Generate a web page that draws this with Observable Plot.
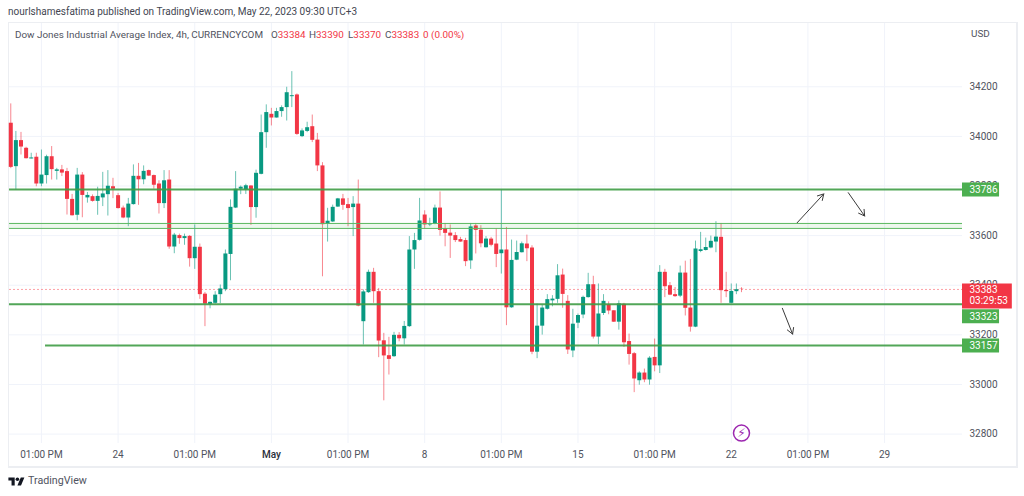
<!DOCTYPE html>
<html>
<head>
<meta charset="utf-8">
<script src="https://cdn.jsdelivr.net/npm/d3@7"></script>
<script src="https://cdn.jsdelivr.net/npm/@observablehq/plot@0.6"></script>
<style>
html,body{margin:0;padding:0;background:#fff;width:1024px;height:496px;overflow:hidden;font-family:Roboto,sans-serif}
.t{position:absolute;white-space:nowrap;font-size:9.9px;line-height:12px;color:#50535e}
#box{position:absolute;left:8px;top:22px;width:1007px;height:443px;border:1px solid #eceef2;border-right-width:2px;border-bottom-width:2px;}
#box svg{display:block;overflow:visible}
.r{color:#f23645}
</style>
</head>
<body>
<div class="t" style="left:8px;top:6px;font-size:10px;color:#434651">nourlshamesfatima published on TradingView.com, May 22, 2023 09:30 UTC+3</div>
<div id="box"></div>
<div class="t" style="left:15px;top:29px">Dow Jones Industrial Average Index, 4h, CURRENCYCOM</div>
<div class="t" style="left:271px;top:29px">O<span class="r">33384</span></div>
<div class="t" style="left:309px;top:29px">H<span class="r">33390</span></div>
<div class="t" style="left:348px;top:29px">L<span class="r">33370</span></div>
<div class="t" style="left:385px;top:29px">C<span class="r">33383</span></div>
<div class="t r" style="left:423px;top:29px">0 (0.00%)</div>
<div class="t" style="left:971px;top:28px">USD</div>
<svg style="position:absolute;left:8px;top:477px" width="17" height="9" viewBox="0 3 36 20"><path fill="#131722" d="M14 22H7V11H0V4h14v18zM28 22h-8l7.5-18h8L28 22z"/><circle fill="#131722" cx="20" cy="8" r="4"/></svg>
<div class="t" style="left:28px;top:474px;font-size:10.7px;line-height:14px;color:#50535e">TradingView</div>
<script>
const opens = [34053,33878,33983,33952,33909,33916,33808,33842,33918,33859,33865,33858,33746,33682,33844,33752,33757,33738,33752,33765,
33797,33761,33711,33671,33725,33839,33825,33862,33842,33808,33729,33824,33554,33600,33588,33597,33507,33553,33364,33323,
33327,33362,33382,33524,33711,33787,33784,33800,33713,33847,34015,34089,34074,34100,34116,34160,34167,33999,34020,34039,
33985,33881,33645,33655,33715,33748,33725,33713,33727,33253,33370,33452,33374,33176,33116,33112,33198,33184,33233,33542,
33581,33683,33643,33647,33711,33628,33610,33600,33584,33580,33498,33639,33622,33551,33586,33566,33527,33542,33309,33501,
33531,33566,33550,33130,33235,33303,33337,33343,33441,33335,33135,33247,33280,33350,33402,33191,33286,33321,33297,33251,
33323,33173,33124,33015,33046,33018,33109,33075,33452,33398,33362,33356,33449,33308,33231,33536,33540,33550,33574,33593,
33379,33327,33374,33384];
const highs = [34131,34020,34016,33956,33932,33932,33945,33924,33959,33871,33883,33871,33766,33871,33854,33774,33764,33795,33855,33862,
33831,33770,33719,33750,33885,33891,33881,33864,33844,33821,33862,33862,33609,33606,33606,33600,33643,33566,33371,33332,
33374,33401,33542,33744,33858,33800,33807,33801,33864,34086,34127,34113,34113,34123,34198,34261,34171,34030,34057,34086,
34012,33894,33710,33723,33750,33766,33750,33757,33824,33381,33461,33468,33387,33206,33190,33210,33209,33254,33596,33609,
33750,33700,33670,33723,33776,33649,33643,33612,33593,33589,33649,33649,33640,33596,33593,33628,33784,33633,33582,33578,
33574,33602,33559,33324,33320,33362,33358,33483,33465,33358,33303,33284,33356,33448,33436,33405,33362,33333,33297,33337,
33327,33203,33129,33051,33062,33112,33183,33479,33464,33411,33391,33477,33497,33504,33578,33613,33590,33598,33656,33649,
33452,33405,33405,33390];
const lows = [33870,33784,33925,33909,33909,33797,33797,33808,33824,33824,33838,33683,33679,33660,33672,33731,33735,33682,33717,33679,
33749,33707,33668,33636,33723,33722,33805,33838,33787,33687,33709,33545,33527,33565,33561,33473,33464,33343,33233,33305,
33324,33326,33374,33418,33709,33765,33766,33641,33670,33845,33952,34042,34074,34077,34062,34116,34004,33995,34015,33975,
33858,33434,33574,33653,33714,33702,33636,33596,33313,33159,33367,33327,33108,32934,33038,33109,33172,33159,33230,33464,
33578,33625,33636,33644,33598,33555,33508,33572,33573,33475,33464,33526,33551,33550,33555,33471,33445,33237,33307,33499,
33530,33495,33120,33104,33199,33300,33313,33327,33307,33121,33108,33225,33265,33348,33183,33160,33278,33281,33250,33219,
33149,33078,32967,32997,33007,32997,33051,33044,33350,33358,33351,33350,33276,33211,33229,33531,33538,33547,33531,33327,
33350,33325,33362,33370];
const closes = [33875,33983,33957,33910,33913,33808,33844,33918,33866,33865,33852,33746,33680,33844,33762,33762,33738,33758,33768,33799,
33787,33709,33671,33727,33839,33825,33859,33840,33803,33729,33821,33554,33602,33588,33596,33507,33553,33362,33324,33331,
33360,33385,33526,33714,33787,33795,33801,33713,33851,34015,34096,34074,34100,34116,34176,34164,34008,34022,34035,33984,
33881,33644,33658,33714,33748,33722,33709,33727,33316,33373,33452,33374,33175,33115,33101,33198,33184,33234,33542,33580,
33659,33643,33648,33711,33621,33609,33598,33580,33574,33495,33635,33621,33567,33586,33561,33524,33542,33309,33500,33532,
33567,33547,33130,33235,33308,33342,33344,33438,33363,33139,33243,33278,33351,33402,33191,33284,33335,33296,33251,33325,
33168,33121,33022,33046,33018,33106,33075,33452,33394,33360,33354,33449,33307,33231,33546,33543,33552,33577,33594,33378,
33374,33375,33382,33383];

const xTickAt = [6,21,36,51,66,81,96,111,126,141,156,171];
const xTickText = ["01:00 PM","24","01:00 PM","May","01:00 PM","8","01:00 PM","15","01:00 PM","22","01:00 PM","29"];
const yTicks = [34200,34000,33800,33600,33400,33200,33000,32800];

const green = "#089981", red = "#f23645", lineGreen = "#4caf50";
const levelValues = [33786,33323,33157];
const levelStart = [-0.25,-0.25,6.8];
const bandLow = 33629, bandHigh = 33649;
const lastPrice = 33383, countdown = "03:29:53";
const arrowRows = [
  {x1:153.9,y1:33652,x2:159.1,y2:33768},
  {x1:163.9,y1:33773,x2:167.1,y2:33679},
  {x1:151,y1:33307,x2:153,y2:33203}
];

const candles = opens.map((o,i)=>({i,open:o,high:highs[i],low:lows[i],close:closes[i]}));
const col = d => d.close >= d.open ? green : red;
const xMin = -0.25, xMax = 186.25, boxEnd = 193.5, redEnd = 196, labelX = 187.6;
const labelRows = levelValues.map((v,k)=>({v,k}));
const shifted = [33323];
const unshifted = levelValues.filter(v=>!shifted.includes(v));

const chart = Plot.plot({
  width:1007, height:443, marginLeft:0, marginRight:54, marginTop:0, marginBottom:23,
  style:{fontFamily:'Roboto,sans-serif',fontSize:"10px",background:"transparent",color:"#50535e"},
  x:{domain:[xMin,xMax],axis:null},
  y:{domain:[32762,34455],axis:null},
  marks:[
    Plot.ruleX(xTickAt,{x:d=>d,stroke:"#f0f3fa",strokeWidth:1}),
    Plot.ruleY(yTicks,{y:d=>d,x1:xMin,x2:xMax,stroke:"#f0f3fa",strokeWidth:1}),
    Plot.axisY(yTicks,{anchor:"right",tickSize:0,tickPadding:7,label:null,tickFormat:d=>String(d),fill:"#50535e"}),
    Plot.axisX(xTickAt.filter((d,k)=>xTickText[k]!=="May"),{anchor:"bottom",tickSize:0,tickPadding:7,label:null,tickFormat:d=>xTickText[xTickAt.indexOf(d)],fill:"#50535e"}),
    Plot.axisX(xTickAt.filter((d,k)=>xTickText[k]==="May"),{anchor:"bottom",tickSize:0,tickPadding:7,label:null,tickFormat:d=>xTickText[xTickAt.indexOf(d)],fill:"#2a2e39",fontWeight:500}),
    Plot.ruleY([lastPrice],{x1:xMin,x2:xMax,stroke:"#f7525f",strokeWidth:1,strokeDasharray:"2,2",strokeOpacity:.55}),
    Plot.ruleX(candles,{x:"i",y1:"low",y2:"high",stroke:col,strokeWidth:1,strokeOpacity:.6}),
    Plot.ruleX(candles,{x:"i",y1:"open",y2:"close",stroke:col,strokeWidth:4}),
    Plot.rect([0],{x1:xMin,x2:xMax,y1:bandLow,y2:bandHigh,fill:lineGreen,fillOpacity:.1}),
    Plot.ruleY([bandLow,bandHigh],{x1:xMin,x2:xMax,stroke:"#5cb860",strokeWidth:1}),
    Plot.ruleY(labelRows,{y:"v",x1:d=>levelStart[d.k],x2:xMax,stroke:"#3f9c46",strokeWidth:2,strokeOpacity:.9}),
    Plot.arrow(arrowRows,{x1:"x1",y1:"y1",x2:"x2",y2:"y2",stroke:"#3a3a3a",strokeWidth:1,headLength:10,bend:false}),
    Plot.ruleY(unshifted,{y:d=>d,x1:xMax,x2:boxEnd,stroke:lineGreen,strokeWidth:14}),
    Plot.text(unshifted,{x:labelX,y:d=>d,text:d=>String(d),fill:"#fff",textAnchor:"start"}),
    Plot.ruleY(shifted,{y:d=>d,x1:xMax,x2:boxEnd,stroke:lineGreen,strokeWidth:14,dy:12}),
    Plot.text(shifted,{x:labelX,y:d=>d,dy:12,text:d=>String(d),fill:"#fff",textAnchor:"start"}),
    Plot.ruleY([33357],{x1:xMax,x2:redEnd,stroke:red,strokeWidth:25}),
    Plot.text([lastPrice],{x:labelX,y:d=>d,text:d=>String(d),fill:"#fff",textAnchor:"start"}),
    Plot.text([countdown],{x:labelX,y:lastPrice,dy:11.5,text:d=>d,fill:"#fff",textAnchor:"start"}),
    Plot.dot([0],{x:143,y:32804,r:8,stroke:"#9c27b0",strokeWidth:1.5,fill:"#fff"}),
    Plot.text(["⚡"],{x:143,y:32804,text:d=>d,fill:"#9c27b0",fontSize:12,fontFamily:"DejaVu Sans"})
  ]
});
document.getElementById("box").appendChild(chart);
</script>
</body>
</html>
